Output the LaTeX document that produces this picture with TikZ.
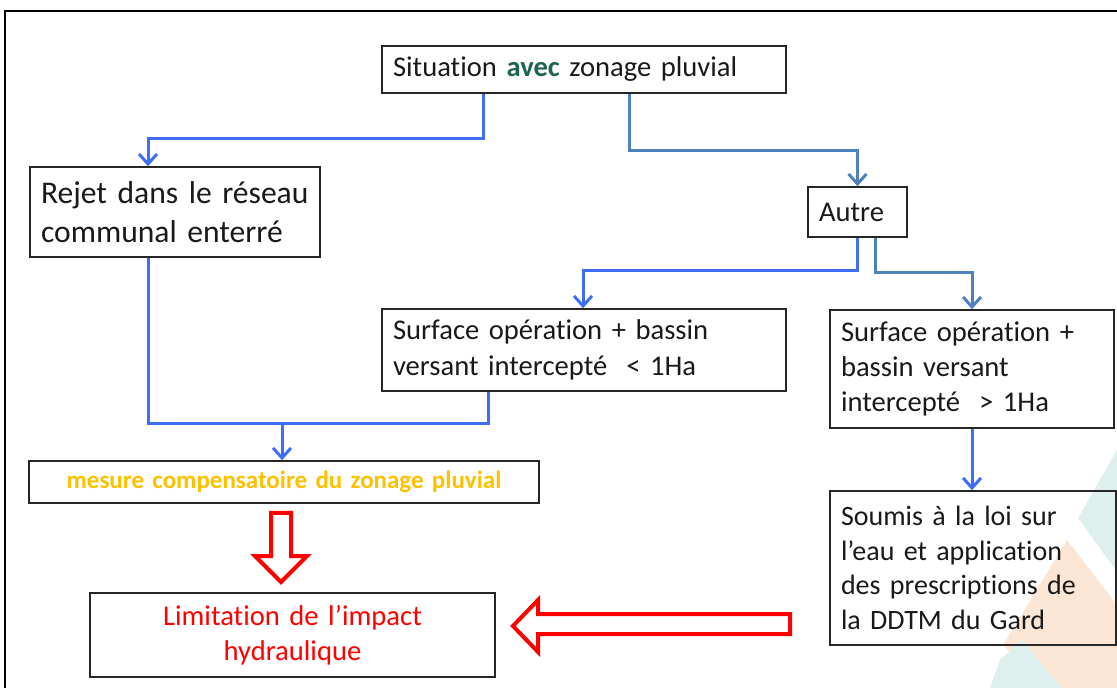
\documentclass[tikz,border=0pt]{standalone}
\usepackage{fontspec}
\setmainfont{Carlito}[Ligatures=NoCommon, WordSpace=0.85]
\usetikzlibrary{arrows.meta}
\definecolor{brightblue}{RGB}{61,110,245}
\definecolor{steelblue}{RGB}{79,129,189}
\definecolor{avecgreen}{RGB}{30,100,80}
\definecolor{gold}{RGB}{255,192,0}
\definecolor{wmteal}{RGB}{222,240,238}
\definecolor{wmorange}{RGB}{251,230,214}
\tikzset{
    box/.style={draw=black!85, line width=0.8pt, inner xsep=5.5pt, inner ysep=0pt,
        align=left, text=black!90, font=\fontsize{14.3}{17.3}\selectfont},
    cbox/.style={box, align=center},
    flow/.style={->, >={Straight Barb[length=5pt,width=9pt]}, line width=1.5pt, draw=brightblue},
    sflow/.style={flow, draw=steelblue},
    line/.style={-, line width=1.5pt, draw=brightblue},
    hollow/.style={draw=red, line width=2pt, line join=miter},
}

\begin{document}
\begin{tikzpicture}[x=0.5pt, y=-0.5pt]
    \clip (0,0) rectangle (1117,688);
    % watermark in the corner
    \fill[wmteal] (1117,450) -- (1078,518) -- (1117,572) -- cycle;
    \fill[wmorange] (1067,540) -- (1117,605) -- (1117,688) -- (1045,688) -- (1003,645) -- cycle;
    \fill[wmteal] (1000,660) -- (1022,640) -- (1062,688) -- (990,688) -- cycle;
    % frame
    \draw[line width=1pt] (5,11) rectangle (1140,720);

    \node[box, text width=191pt, minimum height=23.5pt] (sit) at (584,69.5)
        {Situation \textbf{\textcolor{avecgreen}{avec}} zonage pluvial};
    \node[box, text width=134pt, minimum height=45pt, font=\fontsize{15.8}{19.8}\selectfont] (rejet) at (175,212)
        {Rejet dans le réseau\\communal enterré};
    \node[box, text width=38.5pt, minimum height=25pt] (autre) at (857.5,212) {Autre};
    \node[box, text width=191pt, minimum height=41pt, font=\fontsize{14.3}{18.3}\selectfont] (small) at (584,350)
        {Surface opération + bassin\\versant intercepté\ \ < 1Ha};
    \node[box, text width=131pt, minimum height=59pt] (big) at (972,369)
        {Surface opération +\\bassin versant\\intercepté\ \ > 1Ha};
    \node[cbox, text width=244pt, minimum height=21pt, font=\fontsize{12.5}{15}\selectfont] (mesure) at (284,482)
        {\textcolor{gold}{\textbf{mesure compensatoire du zonage pluvial}}};
    \node[box, text width=132pt, minimum height=77pt, font=\fontsize{14}{17.3}\selectfont] (soumis) at (973,568)
        {Soumis à la loi sur\\l’eau et application\\des prescriptions de\\la DDTM du Gard};
    \node[cbox, text width=191.5pt, minimum height=42pt] (limit) at (292.5,635)
        {\textcolor{red}{Limitation de l’impact}\\\textcolor{red}{hydraulique}};

    \draw[flow] ([xshift=-50.5pt]sit.south) -- ++(0,45) -| ([xshift=-13.5pt]rejet.north);
    \draw[sflow] ([xshift=22.5pt]sit.south) -- ++(0,57) -| (autre.north);
    \draw[flow] ([xshift=-0.25pt]autre.south) -- ++(0,33) -| ([xshift=-0.5pt]small.north);
    \draw[sflow] ([xshift=8.75pt]autre.south) -- ++(0,35) -| (big.north);
    \draw[line] ([xshift=-13.5pt]rejet.south) -- ++(0,166) -| ([xshift=-48pt]small.south);
    \coordinate (merge) at (282,423);
    \draw[flow] (merge) -- (merge |- mesure.north);
    \draw[flow] (big.south) -- (big.south |- soumis.north);

    % hollow red arrows
    \draw[hollow] (271,513) -- (291,513) -- (291,556) -- (307,556) -- (281,582)
        -- (255,556) -- (271,556) -- cycle;
    \draw[hollow] (790,614) -- (538,614) -- (538,600) -- (513,626) -- (538,652)
        -- (538,634) -- (790,634) -- cycle;
\end{tikzpicture}
\end{document}
